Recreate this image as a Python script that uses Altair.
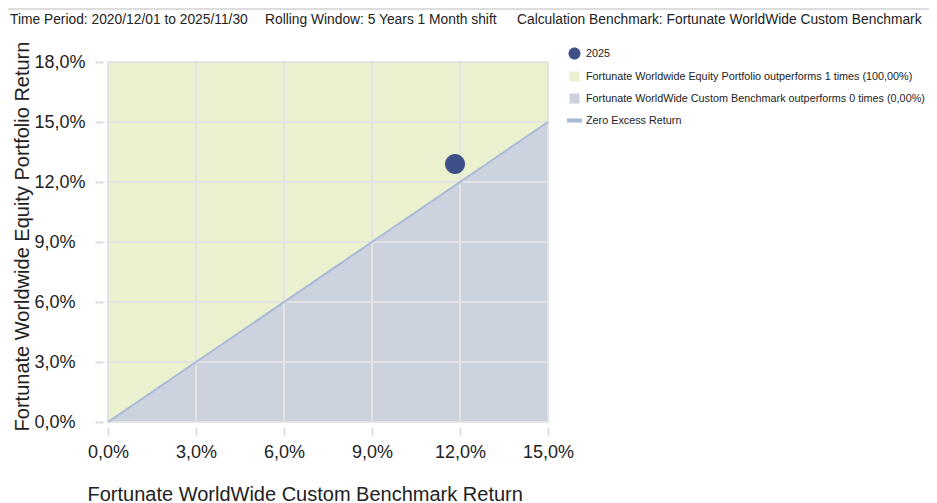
import altair as alt
import pandas as pd

# ---- data ----
diag_x = [0.0, 15.0]
diag_y = [0.0, 15.0]
top_y = [18.0, 18.0]
point_x = [11.83]
point_y = [12.9]
point_label = ["2025"]

legend_labels = [
    "2025",
    "Fortunate Worldwide Equity Portfolio outperforms 1 times (100,00%)",
    "Fortunate WorldWide Custom Benchmark outperforms 0 times (0,00%)",
    "Zero Excess Return",
]
legend_colors = ["#3f4f87", "#ebf1cf", "#cdd2df", "#a9bad6"]
legend_shapes = [
    "M0.8,0A0.8,0.8,0,1,1,-0.8,0A0.8,0.8,0,1,1,0.8,0Z",
    "M-0.67,-0.67H0.67V0.67H-0.67Z",
    "M-0.67,-0.67H0.67V0.67H-0.67Z",
    "M-1,-0.27H1V0.27H-1Z",
]
x_ticks = [0, 3, 6, 9, 12, 15]
y_ticks = [0, 3, 6, 9, 12, 15, 18]
header_texts = [
    "Time Period: 2020/12/01 to 2025/11/30",
    "Rolling Window: 5 Years 1 Month shift",
    "Calculation Benchmark: Fortunate WorldWide Custom Benchmark",
]
x_title = "Fortunate WorldWide Custom Benchmark Return"
y_title = "Fortunate Worldwide Equity Portfolio Return"

FONT = "Liberation Sans"
fmt = "replace(format(datum.value, '.1f'), '.', ',') + '%'"
GRID = "#e3e3e3"

area_df = pd.DataFrame({"x": diag_x, "y": diag_y, "top": top_y})
pt_df = pd.DataFrame({"x": point_x, "y": point_y, "series": point_label})
xt_df = pd.DataFrame({"v": x_ticks})
yt_df = pd.DataFrame({"v": y_ticks})

xscale = alt.Scale(domain=[0, 15], nice=False, zero=False)
yscale = alt.Scale(domain=[0, 18], nice=False, zero=False)

xaxis = alt.Axis(
    values=x_ticks, labelExpr=fmt, title=x_title, grid=False, domain=False,
    offset=5, tickSize=8, tickColor="#dcdcdc", tickWidth=2,
    labelFont=FONT, labelFontSize=18, labelColor="#222", labelPadding=8,
    labelAlign="center", labelBaseline="top",
    titleFont=FONT, titleFontSize=20, titleFontWeight="normal", titleColor="#222",
    titleAlign="left", titleAnchor="start", titleX=-21, titleY=73,
    titleBaseline="alphabetic",
)
yaxis = alt.Axis(
    values=y_ticks, labelExpr=fmt, title=y_title, grid=False, domain=False,
    offset=5, tickSize=8, tickColor="#dcdcdc", tickWidth=2,
    labelFont=FONT, labelFontSize=18, labelColor="#222", labelAlign="left",
    labelPadding=61, labelBaseline="middle",
    titleFont=FONT, titleFontSize=20, titleFontWeight="normal", titleColor="#222",
    titleX=-75, titleY=174, titleAlign="center", titleBaseline="alphabetic", titleAngle=270,
)

base = alt.Chart(area_df)

upper = base.mark_area(color="#ebf1cf", opacity=1).encode(
    x=alt.X("x:Q", scale=xscale, axis=xaxis),
    y=alt.Y("y:Q", scale=yscale, axis=yaxis),
    y2="top:Q",
)
lower = base.mark_area(color="#cdd2df", opacity=1).encode(
    x=alt.X("x:Q", scale=xscale),
    y=alt.Y("y:Q", scale=yscale),
    y2=alt.datum(0),
)
vgrid = alt.Chart(xt_df).mark_rule(color=GRID, strokeWidth=2).encode(
    x=alt.X("v:Q", scale=xscale)
)
hgrid = alt.Chart(yt_df).mark_rule(color=GRID, strokeWidth=2).encode(
    y=alt.Y("v:Q", scale=yscale)
)
line = base.mark_line(color="#a9bad6", strokeWidth=2).encode(
    x=alt.X("x:Q", scale=xscale),
    y=alt.Y("y:Q", scale=yscale),
)
leg = alt.Legend(
    title=None, orient="none", legendX=459, legendY=-16,
    symbolSize=225, rowPadding=9, labelOffset=4,
    labelFont=FONT, labelFontSize=10.8, labelColor="#222",
    labelLimit=500, symbolStrokeWidth=0, symbolOpacity=1,
)
point = alt.Chart(pt_df).mark_point(filled=True, size=625, opacity=1).encode(
    x=alt.X("x:Q", scale=xscale),
    y=alt.Y("y:Q", scale=yscale),
    color=alt.Color("series:N", scale=alt.Scale(domain=legend_labels, range=legend_colors), legend=leg),
    shape=alt.Shape("series:N", scale=alt.Scale(domain=legend_labels, range=legend_shapes), legend=leg),
)

top_rule = alt.Chart(area_df).mark_rule(color="#dddddd", strokeWidth=2).encode(
    x=alt.value(-100), x2=alt.value(821), y=alt.value(-53)
)

header_layers = []
for txt, px in zip(header_texts, [-98, 157, 409]):
    header_layers.append(
        alt.Chart(pd.DataFrame({"t": [txt]})).mark_text(
            align="left", baseline="alphabetic", font=FONT, fontSize=13.8, color="#222"
        ).encode(text="t:N", x=alt.value(px), y=alt.value(-38))
    )

chart = alt.layer(upper, lower, vgrid, hgrid, line, point, top_rule, *header_layers).properties(
    width=440, height=360,
    padding={"left": 100, "top": 54, "right": 381, "bottom": 81},
    autosize=alt.AutoSizeParams(type="none"),
).configure_view(stroke=None).configure(font=FONT)

chart.save("out.html", embed_options={"renderer": "svg", "actions": False})
